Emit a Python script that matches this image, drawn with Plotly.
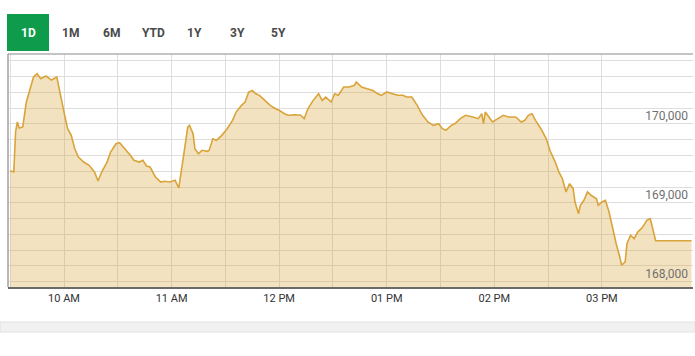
import plotly.graph_objects as go

# ---- data ----
minutes = [0, 2, 3, 4, 5, 7, 9, 11, 13, 15, 17, 20, 23, 26, 27, 28, 30, 32, 34, 36, 38, 41, 44, 47, 49,
           51, 54, 56, 59, 61, 64, 67, 69, 72, 74, 76, 78, 81, 84, 86, 89, 92, 94, 95, 97, 99, 100,
           102, 103, 105, 107, 110, 111, 113, 115, 118, 121, 124, 126, 129, 131, 133, 135, 137, 139,
           142, 145, 148, 150, 153, 155, 159, 162, 164, 166, 169, 172, 174, 176, 179, 181, 183, 186,
           189, 192, 193, 196, 199, 202, 205, 207, 210, 213, 216, 219, 221, 224, 227, 230, 233, 236,
           239, 241, 243, 246, 248, 251, 254, 258, 261, 263, 264, 265, 267, 269, 272, 275, 278, 282,
           285, 287, 289, 291, 293, 296, 299, 301, 304, 306, 308, 310, 312, 314, 315, 317, 318, 320,
           322, 324, 327, 328, 330, 332, 334, 336, 338, 340, 341, 343, 344, 346, 348, 350, 352, 354,
           355, 357, 358, 359, 360, 380]
values = [169205, 169190, 169700, 169823, 169747, 169760, 170076, 170244, 170392, 170434, 170371,
          170405, 170354, 170392, 170291, 170161, 169949, 169738, 169658, 169485, 169380, 169316,
          169275, 169190, 169076, 169190, 169316, 169443, 169548, 169561, 169485, 169401, 169338,
          169316, 169338, 169266, 169253, 169127, 169063, 169072, 169063, 169085, 168987, 169127,
          169443, 169759, 169781, 169675, 169485, 169422, 169465, 169452, 169465, 169611, 169591,
          169654, 169738, 169844, 169949, 170034, 170076, 170203, 170224, 170181, 170161, 170097,
          170034, 169991, 169971, 169928, 169908, 169915, 169908, 169865, 169991, 170097, 170181,
          170097, 170139, 170076, 170181, 170161, 170266, 170266, 170287, 170329, 170266, 170244,
          170224, 170181, 170161, 170203, 170181, 170161, 170161, 170139, 170139, 170034, 169908,
          169823, 169781, 169801, 169738, 169718, 169781, 169801, 169865, 169908, 169886, 169865,
          169928, 169801, 169949, 169886, 169823, 169865, 169908, 169886, 169886, 169823, 169844,
          169908, 169928, 169844, 169738, 169611, 169465, 169316, 169190, 169105, 168937, 169042,
          168979, 168810, 168662, 168768, 168832, 168937, 168895, 168852, 168768, 168810, 168832,
          168684, 168472, 168282, 168114, 168009, 168051, 168282, 168389, 168346, 168430, 168472,
          168536, 168579, 168599, 168515, 168409, 168320, 168320]
tabs = ["1D", "1M", "6M", "YTD", "1Y", "3Y", "5Y"]


def stamp(m):
    h = 9 + (30 + m) // 60
    mm = (30 + m) % 60
    return f"2024-01-02 {h:02d}:{mm:02d}:00"


times = [stamp(m) for m in minutes]

W, H = 695, 356
L, R, T, B = 8, 2, 54, 69
PW, PH = W - L - R, H - T - B


def px(x):
    return (x - L) / PW


def py(y):
    return (H - B - y) / PH


LINE = "#D9A43A"
GRID = "#dedede"

fig = go.Figure()
fig.add_trace(go.Scatter(
    x=times, y=values, mode="lines",
    line=dict(color=LINE, width=1.6),
    fill="tozeroy", fillcolor="rgba(218,164,58,0.32)",
    hoverinfo="skip", showlegend=False,
))

fig.update_layout(
    width=W, height=H,
    margin=dict(l=L, r=R, t=T, b=B),
    paper_bgcolor="white", plot_bgcolor="white",
    showlegend=False,
    xaxis=dict(
        type="date",
        range=["2024-01-02 09:28:46", "2024-01-02 15:50:50"],
        tick0="2024-01-02 10:00:00", dtick=3600000,
        tickformat="%I %p",
        showgrid=True, gridcolor=GRID, gridwidth=1,
        minor=dict(dtick=1800000, tick0="2024-01-02 09:30:00", showgrid=True,
                   gridcolor=GRID, gridwidth=1),
        showline=True, linecolor="#6a6a6a", linewidth=2,
        ticks="", zeroline=False,
        tickfont=dict(family="Liberation Sans Narrow, Roboto, sans-serif", size=11, color="#333333"),
        fixedrange=True,
    ),
    yaxis=dict(
        range=[167734, 170684],
        side="right", ticklabelposition="inside",
        tick0=168000, dtick=1000, tickformat=",d",
        showgrid=True, gridcolor=GRID, gridwidth=1,
        minor=dict(dtick=200, tick0=168000, showgrid=True, gridcolor=GRID, gridwidth=1),
        ticklabelshift=8, ticklabelstandoff=2,
        ticks="", zeroline=False, showline=False,
        tickfont=dict(family="Liberation Sans Narrow, Roboto, sans-serif", size=12, color="#707070"),
        fixedrange=True,
    ),
)

shapes = []
# frame top and left borders
shapes.append(dict(type="line", xref="paper", yref="paper", x0=0, x1=1, y0=1, y1=1,
                   line=dict(color="#b0b0b0", width=1.5)))
shapes.append(dict(type="line", xref="paper", yref="paper", x0=0, x1=0, y0=0, y1=1,
                   line=dict(color="#a0a0a0", width=1.5)))
# selected tab background
shapes.append(dict(type="rect", xref="paper", yref="paper",
                   x0=px(7), x1=px(49), y0=py(51), y1=py(14),
                   fillcolor="#0E9C4C", line=dict(width=0), layer="above"))
# gray band at bottom
shapes.append(dict(type="rect", xref="paper", yref="paper",
                   x0=px(0), x1=px(695), y0=py(332), y1=py(322),
                   fillcolor="#f1f1f1", line=dict(color="#e2e2e2", width=1)))
fig.update_layout(shapes=shapes)

tab_x = [28, 70, 111, 153, 195, 237, 278]
ann = []
for i, (t, x) in enumerate(zip(tabs, tab_x)):
    ann.append(dict(
        text=f"<b>{t}</b>", x=px(x), y=py(33), xref="paper", yref="paper",
        xanchor="center", yanchor="middle", showarrow=False,
        font=dict(family="Roboto, sans-serif", size=12,
                  color="white" if i == 0 else "#4a4a4a"),
    ))
fig.update_layout(annotations=ann)

fig.write_html("out.html", config={"displayModeBar": False})
